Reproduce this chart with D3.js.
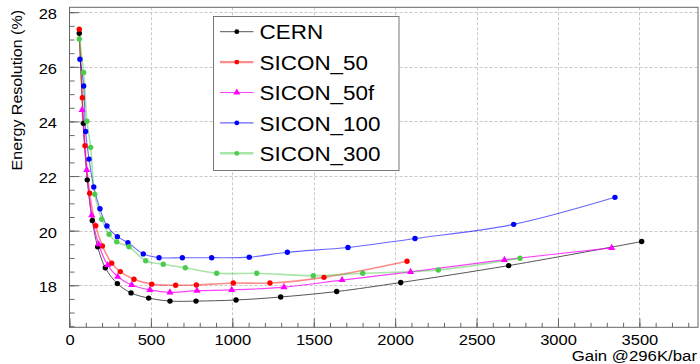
<!DOCTYPE html>
<html>
<head>
<meta charset="utf-8">
<script src="https://cdn.jsdelivr.net/npm/d3@7"></script>
<style>
  html, body { margin: 0; padding: 0; background: #fff; }
  svg { display: block; font-family: "Liberation Sans", Arial, Helvetica, sans-serif; }
</style>
</head>
<body>
<svg id="chart" width="700" height="364"></svg>
<script>
// Energy resolution vs. gain for several detector configurations
const cernGain = [60, 85, 109, 140, 173, 220, 294, 378, 486, 617, 777, 1023, 1297, 1641, 2034, 2697, 3514];
const cernRes  = [27.23, 23.93, 21.86, 20.37, 19.41, 18.64, 18.06, 17.72, 17.53, 17.42, 17.42, 17.46, 17.57, 17.77, 18.10, 18.72, 19.60];

const sicon50Gain = [60, 79, 95, 124, 161, 202, 259, 312, 396, 505, 652, 779, 1006, 1231, 1563, 2073];
const sicon50Res  = [27.38, 24.87, 23.11, 21.37, 20.18, 19.44, 18.81, 18.50, 18.22, 18.04, 18.00, 18.01, 18.08, 18.08, 18.29, 18.88];

const sicon50fGain = [77, 106, 136, 179, 234, 296, 382, 494, 617, 783, 996, 1317, 1674, 2095, 2671, 3330];
const sicon50fRes  = [24.42, 22.22, 20.57, 19.50, 18.74, 18.31, 18.01, 17.83, 17.74, 17.80, 17.83, 17.93, 18.19, 18.49, 18.93, 19.37];

const sicon100Gain = [64, 87, 99, 120, 149, 187, 230, 294, 359, 453, 550, 693, 873, 1104, 1338, 1710, 2122, 2728, 3350];
const sicon100Res  = [26.28, 25.30, 23.63, 22.62, 21.60, 20.80, 20.17, 19.78, 19.56, 19.15, 19.01, 19.01, 19.01, 19.03, 19.21, 19.38, 19.71, 20.23, 21.22];

const sicon300Gain = [60, 87, 107, 130, 155, 198, 243, 290, 365, 468, 576, 711, 904, 1150, 1497, 1801, 2265, 2767];
const sicon300Res  = [27.02, 25.79, 24.01, 23.05, 21.33, 20.42, 19.87, 19.59, 19.41, 18.90, 18.77, 18.64, 18.44, 18.44, 18.35, 18.44, 18.56, 18.99];

const seriesNames = ["CERN", "SICON_50", "SICON_50f", "SICON_100", "SICON_300"];

const xTicks = [0, 500, 1000, 1500, 2000, 2500, 3000, 3500];
const yTicks = [18, 20, 22, 24, 26, 28];

const xTitle = "Gain @296K/bar";
const yTitle = "Energy Resolution (%)";

// drawing styles per series
const styles = [
  { line: "#555555", lw: 1,   marker: "#000000", shape: "circle" },
  { line: "rgba(255,0,0,0.45)", lw: 1.6, marker: "#ff0000", shape: "circle" },
  { line: "rgba(255,0,255,0.75)", lw: 1.2, marker: "#ff00ff", shape: "triangle" },
  { line: "rgba(0,0,255,0.6)", lw: 1.1, marker: "#0000ff", shape: "circle" },
  { line: "rgba(60,200,60,0.45)", lw: 1.6, marker: "#4ccc4c", shape: "circle" }
];

const series = [
  { gain: cernGain, res: cernRes },
  { gain: sicon50Gain, res: sicon50Res },
  { gain: sicon50fGain, res: sicon50fRes },
  { gain: sicon100Gain, res: sicon100Res },
  { gain: sicon300Gain, res: sicon300Res }
].map((s, i) => ({
  name: seriesNames[i],
  style: styles[i],
  points: s.gain.map((g, j) => ({ x: g, y: s.res[j] }))
}));

const svg = d3.select("#chart");

const frame = { left: 69.5, right: 698, top: 7.3, bottom: 327.3 };
const x = d3.scaleLinear().domain([0, 3860]).range([frame.left, frame.right]);
const y = d3.scaleLinear().domain([16.46, 28.18]).range([frame.bottom, frame.top]);

// text is drawn slightly wide
const WIDE = 1.1;

// grid
const grid = svg.append("g").attr("stroke", "#c8c8c8").attr("stroke-width", 1).attr("stroke-dasharray", "3,2");
grid.selectAll("line.vx").data(xTicks.filter(t => t > 0)).join("line")
  .attr("x1", d => Math.round(x(d)) + 0.5).attr("x2", d => Math.round(x(d)) + 0.5)
  .attr("y1", frame.top).attr("y2", frame.bottom);
grid.selectAll("line.hy").data(yTicks).join("line")
  .attr("y1", d => Math.round(y(d)) + 0.5).attr("y2", d => Math.round(y(d)) + 0.5)
  .attr("x1", frame.left).attr("x2", frame.right);

// axes with inward ticks
const xMinor = d3.range(0, 3860, 100);
const yMinor = d3.range(16.5, 28.2, 0.5);

const xAxisG = svg.append("g").attr("transform", `translate(0,${frame.bottom})`);
xAxisG.call(d3.axisBottom(x).tickValues(xMinor).tickSize(-4.5).tickFormat(""));
xAxisG.call(g => g.select(".domain").remove());
const xMajorG = svg.append("g").attr("transform", `translate(0,${frame.bottom})`);
xMajorG.call(d3.axisBottom(x).tickValues(xTicks).tickSize(-9).tickFormat(d3.format("d")));
xMajorG.call(g => g.select(".domain").remove());
xMajorG.selectAll("text")
  .attr("font-size", 15).attr("fill", "#000")
  .attr("y", 0).attr("dy", "0.71em")
  .attr("transform", `translate(0,7) scale(${WIDE},1)`);

const yAxisG = svg.append("g").attr("transform", `translate(${frame.left},0)`);
yAxisG.call(d3.axisLeft(y).tickValues(yMinor).tickSize(-5).tickFormat(""));
yAxisG.call(g => g.select(".domain").remove());
const yMajorG = svg.append("g").attr("transform", `translate(${frame.left},0)`);
yMajorG.call(d3.axisLeft(y).tickValues(yTicks).tickSize(-10).tickFormat(d3.format("d")));
yMajorG.call(g => g.select(".domain").remove());
yMajorG.selectAll("text")
  .attr("font-size", 15).attr("fill", "#000")
  .attr("x", 0).attr("dy", "0.36em")
  .attr("transform", `translate(-12.5,1) scale(${WIDE},1)`);

svg.selectAll(".tick line").attr("stroke", "#666");

// frame box
svg.append("rect")
  .attr("x", frame.left).attr("y", frame.top)
  .attr("width", frame.right - frame.left).attr("height", frame.bottom - frame.top)
  .attr("fill", "none").attr("stroke", "#666").attr("stroke-width", 1);

// series curves and markers
const line = d3.line().x(d => x(d.x)).y(d => y(d.y)).curve(d3.curveCatmullRom.alpha(0.5));
const tri = d3.symbol().type(d3.symbolTriangle).size(22);

function drawMarker(sel, style, r) {
  if (style.shape === "triangle") {
    sel.append("path").attr("d", tri).attr("fill", style.marker);
  } else {
    sel.append("circle").attr("r", r).attr("fill", style.marker);
  }
}

const plot = svg.append("g");
series.forEach(s => {
  plot.append("path").datum(s.points)
    .attr("d", line).attr("fill", "none")
    .attr("stroke", s.style.line).attr("stroke-width", s.style.lw);
});
series.forEach(s => {
  const g = plot.append("g");
  s.points.forEach(p => {
    const m = g.append("g").attr("transform", `translate(${x(p.x)},${y(p.y)})`);
    drawMarker(m, s.style, 2.7);
  });
});

// legend
const legend = svg.append("g");
legend.append("rect")
  .attr("x", 213.5).attr("y", 16.5).attr("width", 185.5).attr("height", 154)
  .attr("fill", "#fff").attr("stroke", "#777").attr("stroke-width", 1);
series.forEach((s, i) => {
  const cy = 31.7 + i * 30.4;
  legend.append("line").attr("x1", 220).attr("x2", 253.5).attr("y1", cy).attr("y2", cy)
    .attr("stroke", s.style.line).attr("stroke-width", s.style.lw + (i === 1 || i === 4 ? 0.8 : 0));
  const m = legend.append("g").attr("transform", `translate(236.8,${cy})`);
  drawMarker(m, s.style, 2.4);
  legend.append("text")
    .attr("transform", `translate(259.5,${cy + 7.6}) scale(1.07,1)`)
    .attr("font-size", 21).attr("fill", "#000").text(s.name);
});

// axis titles
svg.append("text")
  .attr("transform", `translate(697,360.5) scale(1.12,1)`)
  .attr("text-anchor", "end")
  .attr("font-size", 15).attr("fill", "#000").text(xTitle);
svg.append("text")
  .attr("transform", "translate(21.5,10) rotate(-90) scale(1.07,1)")
  .attr("text-anchor", "end").attr("font-size", 15).attr("fill", "#000").text(yTitle);
</script>
</body>
</html>
